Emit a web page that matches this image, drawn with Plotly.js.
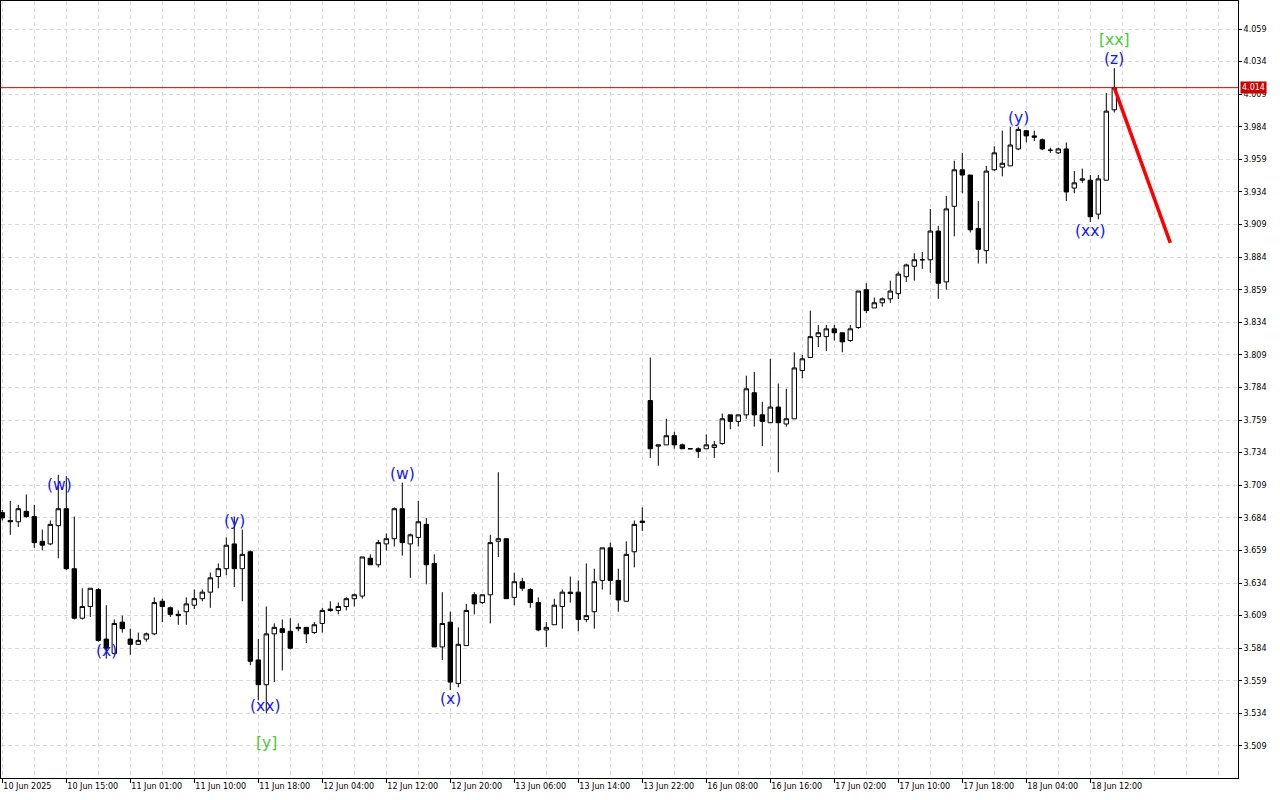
<!DOCTYPE html>
<html>
<head>
<meta charset="utf-8">
<script src="https://cdn.plot.ly/plotly-3.0.1.min.js"></script>
<style>html,body{margin:0;padding:0;background:#fff;}#chart{width:1280px;height:800px;}</style>
</head>
<body>
<div id="chart"></div>
<script>
// Hourly bars (index 0..139)
const open = [
3.688,3.682,3.681,3.689,3.685,3.666,3.664,3.678,3.691,3.645,
3.607,3.616,3.629,3.591,3.580,3.604,3.591,3.587,3.591,3.595,
3.620,3.615,3.610,3.612,3.617,3.622,3.627,3.639,3.645,3.664,
3.645,3.658,3.575,3.556,3.595,3.599,3.597,3.599,3.600,3.596,
3.603,3.614,3.613,3.616,3.622,3.624,3.653,3.648,3.664,3.668,
3.691,3.664,3.669,3.679,3.649,3.585,3.604,3.557,3.586,3.625,
3.619,3.625,3.666,3.668,3.623,3.635,3.629,3.619,3.598,3.602,
3.616,3.627,3.627,3.606,3.612,3.636,3.661,3.636,3.620,3.658,
3.6815,3.774,3.739,3.740,3.747,3.740,3.737,3.737,3.737,3.738,
3.741,3.763,3.758,3.763,3.780,3.763,3.757,3.769,3.756,3.760,
3.797,3.807,3.823,3.823,3.829,3.826,3.820,3.830,3.859,3.845,
3.849,3.852,3.856,3.869,3.877,3.882,3.882,3.904,3.865,3.923,
3.951,3.947,3.906,3.889,3.951,3.953,3.954,3.967,3.981,3.977,
3.974,3.966,3.964,3.967,3.937,3.943,3.943,3.917,3.943,3.997
];
const high = [
3.690,3.697,3.694,3.702,3.694,3.675,3.682,3.717,3.716,3.685,
3.630,3.630,3.630,3.617,3.606,3.609,3.599,3.596,3.596,3.623,
3.622,3.616,3.613,3.623,3.629,3.629,3.642,3.649,3.669,3.685,
3.675,3.659,3.591,3.616,3.603,3.606,3.607,3.603,3.600,3.604,
3.615,3.620,3.619,3.623,3.626,3.654,3.656,3.667,3.672,3.692,
3.711,3.672,3.697,3.684,3.656,3.627,3.612,3.600,3.618,3.627,
3.625,3.671,3.719,3.668,3.642,3.638,3.630,3.623,3.604,3.622,
3.629,3.639,3.636,3.649,3.645,3.661,3.665,3.645,3.666,3.682,
3.692,3.807,3.740,3.760,3.750,3.741,3.7372,3.738,3.748,3.743,
3.764,3.763,3.763,3.793,3.796,3.773,3.806,3.787,3.783,3.811,
3.809,3.843,3.832,3.832,3.832,3.826,3.832,3.858,3.864,3.853,
3.853,3.866,3.873,3.879,3.887,3.888,3.921,3.908,3.931,3.958,
3.964,3.947,3.927,3.954,3.969,3.981,3.984,3.984,3.981,3.981,
3.975,3.968,3.968,3.972,3.950,3.952,3.947,3.947,4.010,4.029
];
const low = [
3.682,3.671,3.677,3.684,3.661,3.659,3.663,3.653,3.644,3.606,
3.606,3.608,3.589,3.576,3.579,3.596,3.579,3.587,3.589,3.594,
3.604,3.608,3.602,3.602,3.614,3.620,3.615,3.630,3.640,3.631,
3.620,3.571,3.544,3.534,3.558,3.567,3.583,3.597,3.588,3.595,
3.596,3.612,3.610,3.613,3.616,3.622,3.648,3.646,3.659,3.662,
3.655,3.638,3.662,3.633,3.585,3.575,3.552,3.554,3.586,3.610,
3.618,3.603,3.654,3.622,3.617,3.628,3.615,3.597,3.585,3.602,
3.599,3.619,3.597,3.604,3.599,3.629,3.625,3.612,3.620,3.646,
3.674,3.730,3.724,3.740,3.737,3.737,3.7368,3.730,3.737,3.730,
3.740,3.752,3.754,3.760,3.754,3.739,3.757,3.719,3.754,3.760,
3.791,3.807,3.815,3.812,3.820,3.811,3.819,3.829,3.841,3.845,
3.846,3.849,3.852,3.865,3.866,3.875,3.872,3.852,3.859,3.900,
3.933,3.903,3.879,3.879,3.950,3.946,3.954,3.966,3.972,3.973,
3.966,3.964,3.963,3.927,3.933,3.941,3.911,3.913,3.943,3.995
];
const close = [
3.684,3.681,3.691,3.685,3.665,3.663,3.679,3.691,3.645,3.607,
3.616,3.630,3.590,3.584,3.603,3.599,3.587,3.590,3.595,3.619,
3.616,3.610,3.609,3.618,3.622,3.627,3.638,3.645,3.663,3.645,
3.656,3.574,3.556,3.595,3.600,3.596,3.584,3.600,3.595,3.602,
3.613,3.613,3.616,3.622,3.625,3.654,3.648,3.665,3.668,3.691,
3.665,3.671,3.681,3.648,3.585,3.603,3.558,3.587,3.613,3.618,
3.625,3.665,3.668,3.622,3.635,3.630,3.619,3.598,3.600,3.617,
3.627,3.626,3.606,3.609,3.635,3.661,3.636,3.621,3.656,3.679,
3.6805,3.737,3.740,3.747,3.740,3.737,3.737,3.735,3.740,3.740,
3.760,3.758,3.763,3.783,3.763,3.758,3.769,3.757,3.760,3.799,
3.806,3.823,3.826,3.829,3.826,3.819,3.829,3.858,3.843,3.849,
3.852,3.858,3.871,3.878,3.882,3.882,3.904,3.864,3.921,3.951,
3.947,3.905,3.890,3.950,3.964,3.956,3.970,3.982,3.977,3.976,
3.967,3.966,3.967,3.934,3.941,3.944,3.915,3.944,3.996,4.014
];

// X tick labels (every 8 bars)
const tickBars = [0,8,16,24,32,40,48,56,64,72,80,88,96,104,112,120,128,136];
const tickLabels = ["10 Jun 2025","10 Jun 15:00","11 Jun 01:00","11 Jun 10:00","11 Jun 18:00",
  "12 Jun 04:00","12 Jun 12:00","12 Jun 20:00","13 Jun 06:00","13 Jun 14:00","13 Jun 22:00",
  "16 Jun 08:00","16 Jun 16:00","17 Jun 02:00","17 Jun 10:00","17 Jun 18:00","18 Jun 04:00","18 Jun 12:00"];

// Y tick labels
const priceTicks = [3.509,3.534,3.559,3.584,3.609,3.634,3.659,3.684,3.709,3.734,3.759,3.784,
  3.809,3.834,3.859,3.884,3.909,3.934,3.959,3.984,4.009,4.034,4.059];

// Current price line and forecast
const lastPrice = 4.014;
const forecastBars = [139, 146];
const forecastPrices = [4.014, 3.895];

// Wave labels
const waveText  = ["(w)","(x)","(y)","(xx)","[y]","(w)","(x)","(y)","(xx)","(z)","[xx]"];
const waveBar   = [7.2, 13, 29, 32.8, 33, 50, 56, 127, 136, 139, 139];
const wavePrice = [3.7092, 3.5819, 3.6816, 3.5397, 3.5113, 3.7176, 3.5451, 3.9910, 3.9040, 4.0360, 4.0506];

const idx = open.map((_, i) => i);
const minorVals = [];
for (let b = 0; b <= 156; b += 4) minorVals.push(b);

const gridColor = '#dadada';
const gridDash = '4px,3px';

const traces = [
  {
    type: 'candlestick',
    x: idx, open: open, high: high, low: low, close: close,
    increasing: {line: {color: '#000', width: 1}, fillcolor: '#ffffff'},
    decreasing: {line: {color: '#000', width: 1}, fillcolor: '#000000'},
    whiskerwidth: 0,
    hoverinfo: 'skip',
    showlegend: false
  },
  {
    type: 'scatter', mode: 'lines',
    x: forecastBars, y: forecastPrices,
    line: {color: '#ff0000', width: 3.5},
    hoverinfo: 'skip', showlegend: false
  }
];

const annotations = waveText.map((t, i) => ({
  x: waveBar[i], y: wavePrice[i], xref: 'x', yref: 'y',
  text: t, showarrow: false, xanchor: 'center', yanchor: 'middle',
  font: {family: 'DejaVu Sans', size: 15.5, color: t.startsWith('[') ? '#4cc83a' : '#1414ff'}
}));
annotations.push({
  x: 1, y: lastPrice, xref: 'paper', yref: 'y', xanchor: 'left', yanchor: 'middle',
  xshift: 2, text: lastPrice.toFixed(3), showarrow: false,
  bgcolor: '#c80000', borderpad: 1,
  font: {family: 'DejaVu Sans', size: 8, color: '#ffffff'}
});

const layout = {
  width: 1280, height: 800,
  margin: {l: 1, r: 42, t: 1, b: 22},
  paper_bgcolor: '#ffffff', plot_bgcolor: '#ffffff',
  showlegend: false, hovermode: false,
  boxgap: 0.45, boxgroupgap: 0,
  xaxis: {
    type: 'linear',
    range: [-0.1625, 154.4625],
    rangeslider: {visible: false},
    tickmode: 'array', tickvals: tickBars, ticktext: tickLabels,
    ticks: 'outside', ticklen: 4, tickcolor: '#000', tickwidth: 1,
    ticklabelposition: 'outside right',
    tickfont: {family: 'DejaVu Sans', size: 8, color: '#000'},
    showgrid: true, gridcolor: gridColor, griddash: gridDash, gridwidth: 1,
    minor: {tickmode: 'array', tickvals: minorVals, showgrid: true, gridcolor: gridColor, griddash: gridDash, ticks: ''},
    showline: true, linecolor: '#000', linewidth: 1, mirror: true,
    zeroline: false, fixedrange: true
  },
  yaxis: {
    side: 'right',
    range: [3.48444, 4.08048],
    tickmode: 'array', tickvals: priceTicks, ticktext: priceTicks.map(v => v.toFixed(3)),
    ticks: 'outside', ticklen: 3, tickcolor: '#000',
    tickfont: {family: 'DejaVu Sans', size: 8, color: '#000'},
    showgrid: true, gridcolor: gridColor, griddash: gridDash, gridwidth: 1,
    showline: true, linecolor: '#000', linewidth: 1, mirror: true,
    zeroline: false, fixedrange: true
  },
  shapes: [{
    type: 'line', xref: 'paper', x0: 0, x1: 1, yref: 'y', y0: lastPrice, y1: lastPrice,
    line: {color: '#d00000', width: 1}, layer: 'above'
  }],
  annotations: annotations
};

Plotly.newPlot('chart', traces, layout, {displayModeBar: false, staticPlot: true});
</script>
</body>
</html>
